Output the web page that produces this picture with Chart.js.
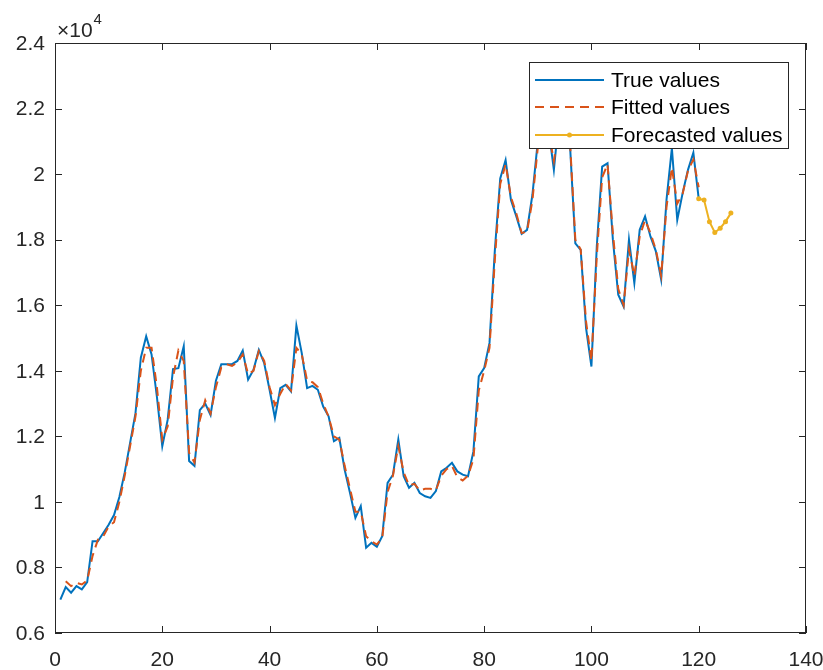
<!DOCTYPE html>
<html>
<head>
<meta charset="utf-8">
<script src="https://cdn.jsdelivr.net/npm/chart.js@4.4.1/dist/chart.umd.min.js"></script>
<style>
  html, body { margin: 0; padding: 0; background: #ffffff; }
  #wrap { width: 823px; height: 670px; }
</style>
</head>
<body>
<div id="wrap"><canvas id="chart" width="823" height="670"></canvas></div>
<script>
const xTicks = [0, 20, 40, 60, 80, 100, 120, 140];
const yTicks = [6000, 8000, 10000, 12000, 14000, 16000, 18000, 20000, 22000, 24000];

// observations 1..120
const trueValues = [
  7020, 7400, 7230, 7430, 7330, 7550, 8800, 8800, 9050, 9300,
  9600, 10150, 10900, 11800, 12700, 14400, 15050, 14500, 13200, 11700,
  12500, 14050, 14080, 14750, 11250, 11100, 12800, 13000, 12650, 13700,
  14200, 14200, 14200, 14300, 14620, 13730, 14030, 14640, 14230, 13420,
  12560, 13470, 13570, 13370, 15380, 14540, 13470, 13540, 13420, 12910,
  12610, 11850, 11950, 10980, 10270, 9510, 9870, 8600, 8750, 8630,
  8950, 10580, 10830, 11900, 10780, 10430, 10580, 10270, 10170, 10120,
  10330, 10930, 11040, 11190, 10930, 10830, 10780, 11540, 13830, 14080,
  14850, 17690, 19870, 20430, 19210, 18710, 18180, 18300, 19370, 21000,
  21600, 21400, 20130, 21800, 21500, 20900, 17890, 17690, 15300, 14130,
  17800, 20230, 20330, 18000, 16320, 15960, 18000, 16680, 18300, 18710,
  18100, 17650, 16780, 19220, 20790, 18600, 19420, 20130, 20650, 19250
];

const fittedValues = [
  null, 7580, 7430, 7530, 7480, 7600, 8350, 8850, 8950, 9250,
  9380, 10000, 10800, 11700, 12600, 14000, 14700, 14700, 13500, 11900,
  12300, 13800, 14620, 14300, 11500, 11200, 12500, 13100, 12700, 13500,
  14100, 14200, 14150, 14250, 14500, 13900, 14000, 14600, 14300, 13500,
  12950, 13300, 13600, 13400, 14700, 14500, 13700, 13650, 13500, 13000,
  12600, 12000, 11900, 11100, 10400, 9700, 9700, 8950, 8800, 8700,
  8900, 10300, 10800, 11700, 10900, 10500, 10550, 10350, 10400, 10400,
  10350, 10800, 11000, 11100, 10750, 10650, 10800, 11300, 13400, 14000,
  14700, 17400, 19700, 20300, 19300, 18800, 18200, 18250, 19200, 20800,
  21400, 21300, 20400, 21500, 21400, 21000, 18000, 17700, 15500, 14300,
  17500, 19900, 20300, 18200, 16500, 16000, 17700, 16900, 18100, 18600,
  18200, 17700, 16900, 19000, 20200, 19100, 19400, 20100, 20450, 19600
];

const forecastStart = 120;
const forecastValues = [19250, 19210, 18550, 18220, 18350, 18550, 18810];

const seriesNames = ["True values", "Fitted values", "Forecasted values"];
const seriesColors = ["#0072BD", "#D95319", "#EDB120"];
const textColor = "#262626";
const fontFamily = "'Liberation Sans', Arial, sans-serif";

const truePoints = trueValues.map((v, i) => ({ x: i + 1, y: v }));
const fittedPoints = fittedValues.map((v, i) => ({ x: i + 1, y: v }));
const forecastPoints = forecastValues.map((v, i) => ({ x: forecastStart + i, y: v }));

const fmtY = (v) => String(Math.round(v / 1000) / 10);

// box round the axes with inward ticks on all four sides, like MATLAB
const axesBox = {
  id: "axesBox",
  afterDraw(chart) {
    const { ctx, chartArea: a, scales } = chart;
    const len = 7;
    ctx.save();
    ctx.strokeStyle = textColor;
    ctx.lineWidth = 1;
    ctx.strokeRect(a.left + 0.5, a.top + 0.5, a.right - a.left - 1, a.bottom - a.top - 1);
    ctx.beginPath();
    xTicks.forEach((t) => {
      const px = Math.round(scales.x.getPixelForValue(t)) + 0.5;
      ctx.moveTo(px, a.bottom); ctx.lineTo(px, a.bottom - len);
      ctx.moveTo(px, a.top); ctx.lineTo(px, a.top + len);
    });
    yTicks.forEach((t) => {
      const py = Math.round(scales.y.getPixelForValue(t)) + 0.5;
      ctx.moveTo(a.left, py); ctx.lineTo(a.left + len, py);
      ctx.moveTo(a.right, py); ctx.lineTo(a.right - len, py);
    });
    ctx.stroke();

    // tick labels
    ctx.fillStyle = textColor;
    ctx.font = `21px ${fontFamily}`;
    ctx.textBaseline = "middle";
    ctx.textAlign = "center";
    xTicks.forEach((t) => {
      ctx.fillText(String(t), scales.x.getPixelForValue(t), a.bottom + 27);
    });
    ctx.textAlign = "right";
    yTicks.forEach((t) => {
      ctx.fillText(fmtY(t), a.left - 10, scales.y.getPixelForValue(t) + 1);
    });

    // exponent label
    ctx.textAlign = "left";
    ctx.textBaseline = "alphabetic";
    ctx.font = `21px ${fontFamily}`;
    ctx.fillText("\u00d710", a.left + 2, a.top - 6);
    const w = ctx.measureText("\u00d710").width;
    ctx.font = `15px ${fontFamily}`;
    ctx.fillText("4", a.left + 3 + w, a.top - 19);
    ctx.restore();
  }
};

const boxLegend = {
  id: "boxLegend",
  afterDraw(chart) {
    const { ctx } = chart;
    const x0 = 529, y0 = 62, w = 259, h = 86;
    ctx.save();
    ctx.fillStyle = "#ffffff";
    ctx.fillRect(x0, y0, w, h);
    ctx.strokeStyle = textColor;
    ctx.lineWidth = 1;
    ctx.strokeRect(x0 + 0.5, y0 + 0.5, w, h);
    const rows = [80, 107, 135];
    rows.forEach((ry, i) => {
      ctx.beginPath();
      ctx.strokeStyle = seriesColors[i];
      ctx.lineWidth = 2;
      ctx.setLineDash(i === 1 ? [9, 6] : []);
      ctx.moveTo(535, ry);
      ctx.lineTo(604, ry);
      ctx.stroke();
      ctx.setLineDash([]);
      if (i === 2) {
        ctx.fillStyle = seriesColors[i];
        ctx.beginPath();
        ctx.arc(569.5, ry, 2.5, 0, Math.PI * 2);
        ctx.fill();
      }
      ctx.fillStyle = "#000000";
      ctx.font = `21px ${fontFamily}`;
      ctx.textBaseline = "middle";
      ctx.fillText(seriesNames[i], 611, ry + 1);
    });
    ctx.restore();
  }
};

new Chart(document.getElementById("chart"), {
  type: "line",
  data: {
    datasets: [
      {
        label: seriesNames[0],
        data: truePoints,
        borderColor: seriesColors[0],
        borderWidth: 2,
        pointRadius: 0,
        tension: 0,
        order: 2
      },
      {
        label: seriesNames[1],
        data: fittedPoints,
        borderColor: seriesColors[1],
        borderWidth: 2,
        borderDash: [9, 6],
        pointRadius: 0,
        tension: 0,
        order: 1
      },
      {
        label: seriesNames[2],
        data: forecastPoints,
        borderColor: seriesColors[2],
        backgroundColor: seriesColors[2],
        borderWidth: 2,
        pointRadius: 2.5,
        pointBorderWidth: 0,
        tension: 0,
        order: 0
      }
    ]
  },
  options: {
    responsive: false,
    animation: false,
    devicePixelRatio: 1,
    layout: { padding: { top: 43, right: 17, left: 0, bottom: 0 } },
    plugins: { legend: { display: false }, tooltip: { enabled: false } },
    scales: {
      x: {
        type: "linear",
        min: 0,
        max: 140,
        afterFit: (s) => { s.height = 37; },
        afterBuildTicks: (s) => { s.ticks = xTicks.map((v) => ({ value: v })); },
        grid: { display: false, drawTicks: false },
        border: { display: false },
        ticks: { display: false }
      },
      y: {
        type: "linear",
        min: 6000,
        max: 24000,
        afterFit: (s) => { s.width = 55; },
        afterBuildTicks: (s) => { s.ticks = yTicks.map((v) => ({ value: v })); },
        grid: { display: false, drawTicks: false },
        border: { display: false },
        ticks: { display: false }
      }
    }
  },
  plugins: [axesBox, boxLegend]
});
</script>
</body>
</html>
